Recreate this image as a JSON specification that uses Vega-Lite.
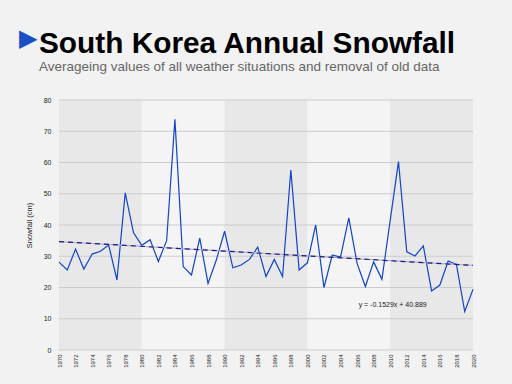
{
  "$schema": "https://vega.github.io/schema/vega-lite/v6.json",
  "background": "#f2f2f2",
  "padding": {"left": 19, "top": 27, "right": 45, "bottom": 25},
  "title": {"text": "▶", "color": "#1a4fc4", "fontSize": 24, "font": "DejaVu Sans", "anchor": "start", "frame": "group", "dx": -40, "dy": 22.5, "offset": 0},
  "datasets": {
    "snow": [
      {"year": 1970, "snowfall": 28.1}, {"year": 1971, "snowfall": 25.6}, {"year": 1972, "snowfall": 32.3},
      {"year": 1973, "snowfall": 25.9}, {"year": 1974, "snowfall": 30.7}, {"year": 1975, "snowfall": 31.6},
      {"year": 1976, "snowfall": 33.6}, {"year": 1977, "snowfall": 22.4}, {"year": 1978, "snowfall": 50.3},
      {"year": 1979, "snowfall": 37.5}, {"year": 1980, "snowfall": 33.5}, {"year": 1981, "snowfall": 35.3},
      {"year": 1982, "snowfall": 28.3}, {"year": 1983, "snowfall": 35.0}, {"year": 1984, "snowfall": 73.8},
      {"year": 1985, "snowfall": 26.7}, {"year": 1986, "snowfall": 24.0}, {"year": 1987, "snowfall": 35.8},
      {"year": 1988, "snowfall": 21.3}, {"year": 1989, "snowfall": 28.8}, {"year": 1990, "snowfall": 38.0},
      {"year": 1991, "snowfall": 26.3}, {"year": 1992, "snowfall": 27.2}, {"year": 1993, "snowfall": 29.0},
      {"year": 1994, "snowfall": 32.9}, {"year": 1995, "snowfall": 23.5}, {"year": 1996, "snowfall": 29.0},
      {"year": 1997, "snowfall": 23.5}, {"year": 1998, "snowfall": 57.6}, {"year": 1999, "snowfall": 25.6},
      {"year": 2000, "snowfall": 27.9}, {"year": 2001, "snowfall": 40.0}, {"year": 2002, "snowfall": 20.0},
      {"year": 2003, "snowfall": 30.4}, {"year": 2004, "snowfall": 29.7}, {"year": 2005, "snowfall": 42.3},
      {"year": 2006, "snowfall": 27.7}, {"year": 2007, "snowfall": 20.3}, {"year": 2008, "snowfall": 28.2},
      {"year": 2009, "snowfall": 22.6}, {"year": 2010, "snowfall": 41.5}, {"year": 2011, "snowfall": 60.3},
      {"year": 2012, "snowfall": 31.4}, {"year": 2013, "snowfall": 30.1}, {"year": 2014, "snowfall": 33.3},
      {"year": 2015, "snowfall": 18.9}, {"year": 2016, "snowfall": 20.8}, {"year": 2017, "snowfall": 28.5},
      {"year": 2018, "snowfall": 27.4}, {"year": 2019, "snowfall": 12.3}, {"year": 2020, "snowfall": 19.4}
    ],
    "bands": [
      {"year": 1970, "end": 1980, "shade": "dark"},
      {"year": 1980, "end": 1990, "shade": "light"},
      {"year": 1990, "end": 2000, "shade": "dark"},
      {"year": 2000, "end": 2010, "shade": "light"},
      {"year": 2010, "end": 2020, "shade": "dark"}
    ],
    "grid": [
      {"snowfall": 0}, {"snowfall": 10}, {"snowfall": 20}, {"snowfall": 30}, {"snowfall": 40},
      {"snowfall": 50}, {"snowfall": 60}, {"snowfall": 70}, {"snowfall": 80}
    ],
    "trend": [
      {"year": 1970, "snowfall": 34.7},
      {"year": 2020, "snowfall": 27.05}
    ],
    "note": [
      {"year": 2010.3, "snowfall": 14.4, "label": "y = -0.1529x + 40.889"}
    ]
  },
  "vconcat": [
    {
      "width": 414,
      "height": 250,
      "title": {
        "text": "South Korea Annual Snowfall",
        "subtitle": "Averageing values of all weather situations and removal of old data",
        "anchor": "start",
        "frame": "group",
        "dx": -20,
        "font": "Liberation Sans",
        "fontSize": 29.8,
        "fontWeight": "bold",
        "color": "#000000",
        "subtitleFont": "Liberation Sans",
        "subtitleFontSize": 13.5,
        "subtitleColor": "#666666",
        "subtitlePadding": 1,
        "offset": 23
      },
      "layer": [
        {
          "data": {"name": "bands"},
          "mark": {"type": "rect"},
          "encoding": {
            "x": {
              "field": "year", "type": "quantitative",
              "scale": {"domain": [1970, 2020], "nice": false, "zero": false},
              "axis": {
                "title": null,
                "values": [1970, 1972, 1974, 1976, 1978, 1980, 1982, 1984, 1986, 1988, 1990, 1992, 1994, 1996, 1998, 2000, 2002, 2004, 2006, 2008, 2010, 2012, 2014, 2016, 2018, 2020],
                "format": "d", "labelAngle": -90, "labelFontSize": 6, "labelFont": "Liberation Sans",
                "labelColor": "#222222", "labelPadding": 4, "labelOverlap": false, "labelFlush": false,
                "domain": false, "ticks": false, "grid": false
              }
            },
            "x2": {"field": "end"},
            "color": {
              "field": "shade", "type": "nominal",
              "scale": {"domain": ["dark", "light"], "range": ["#e8e8e8", "#f4f4f4"]},
              "legend": null
            }
          }
        },
        {
          "data": {"name": "grid"},
          "mark": {"type": "rule", "color": "#cccccc", "strokeWidth": 1},
          "encoding": {
            "y": {
              "field": "snowfall", "type": "quantitative",
              "scale": {"domain": [0, 80], "nice": false},
              "axis": {
                "title": "Snowfall (cm)", "titleFont": "Liberation Sans", "titleFontSize": 7.5,
                "titleFontWeight": "normal", "titleColor": "#222222", "titlePadding": 10,
                "values": [0, 10, 20, 30, 40, 50, 60, 70, 80],
                "labelFontSize": 7, "labelFont": "Liberation Sans", "labelColor": "#222222",
                "labelPadding": 8, "labelOverlap": false, "labelFlush": false,
                "domain": false, "ticks": false, "grid": false
              }
            }
          }
        },
        {
          "data": {"name": "snow"},
          "mark": {"type": "line", "color": "#1144c8", "strokeWidth": 1.2},
          "encoding": {
            "x": {
              "field": "year", "type": "quantitative",
              "axis": {
                "title": null,
                "values": [1970, 1972, 1974, 1976, 1978, 1980, 1982, 1984, 1986, 1988, 1990, 1992, 1994, 1996, 1998, 2000, 2002, 2004, 2006, 2008, 2010, 2012, 2014, 2016, 2018, 2020],
                "format": "d", "labelAngle": -90, "labelFontSize": 6, "labelFont": "Liberation Sans",
                "labelColor": "#222222", "labelPadding": 4, "labelOverlap": false, "labelFlush": false,
                "domain": false, "ticks": false, "grid": false
              }
            },
            "y": {
              "field": "snowfall", "type": "quantitative",
              "axis": {
                "title": "Snowfall (cm)", "titleFont": "Liberation Sans", "titleFontSize": 7.5,
                "titleFontWeight": "normal", "titleColor": "#222222", "titlePadding": 10,
                "values": [0, 10, 20, 30, 40, 50, 60, 70, 80],
                "labelFontSize": 7, "labelFont": "Liberation Sans", "labelColor": "#222222",
                "labelPadding": 8, "labelOverlap": false, "labelFlush": false,
                "domain": false, "ticks": false, "grid": false
              }
            }
          }
        },
        {
          "data": {"name": "trend"},
          "mark": {"type": "line", "color": "#b3acd4", "strokeWidth": 1.2},
          "encoding": {
            "x": {
              "field": "year", "type": "quantitative",
              "axis": {
                "title": null,
                "values": [1970, 1972, 1974, 1976, 1978, 1980, 1982, 1984, 1986, 1988, 1990, 1992, 1994, 1996, 1998, 2000, 2002, 2004, 2006, 2008, 2010, 2012, 2014, 2016, 2018, 2020],
                "format": "d", "labelAngle": -90, "labelFontSize": 6, "labelFont": "Liberation Sans",
                "labelColor": "#222222", "labelPadding": 4, "labelOverlap": false, "labelFlush": false,
                "domain": false, "ticks": false, "grid": false
              }
            },
            "y": {
              "field": "snowfall", "type": "quantitative",
              "axis": {
                "title": "Snowfall (cm)", "titleFont": "Liberation Sans", "titleFontSize": 7.5,
                "titleFontWeight": "normal", "titleColor": "#222222", "titlePadding": 10,
                "values": [0, 10, 20, 30, 40, 50, 60, 70, 80],
                "labelFontSize": 7, "labelFont": "Liberation Sans", "labelColor": "#222222",
                "labelPadding": 8, "labelOverlap": false, "labelFlush": false,
                "domain": false, "ticks": false, "grid": false
              }
            }
          }
        },
        {
          "data": {"name": "trend"},
          "mark": {"type": "line", "color": "#1c1c7a", "strokeWidth": 1.2, "strokeDash": [5, 4]},
          "encoding": {
            "x": {
              "field": "year", "type": "quantitative",
              "axis": {
                "title": null,
                "values": [1970, 1972, 1974, 1976, 1978, 1980, 1982, 1984, 1986, 1988, 1990, 1992, 1994, 1996, 1998, 2000, 2002, 2004, 2006, 2008, 2010, 2012, 2014, 2016, 2018, 2020],
                "format": "d", "labelAngle": -90, "labelFontSize": 6, "labelFont": "Liberation Sans",
                "labelColor": "#222222", "labelPadding": 4, "labelOverlap": false, "labelFlush": false,
                "domain": false, "ticks": false, "grid": false
              }
            },
            "y": {
              "field": "snowfall", "type": "quantitative",
              "axis": {
                "title": "Snowfall (cm)", "titleFont": "Liberation Sans", "titleFontSize": 7.5,
                "titleFontWeight": "normal", "titleColor": "#222222", "titlePadding": 10,
                "values": [0, 10, 20, 30, 40, 50, 60, 70, 80],
                "labelFontSize": 7, "labelFont": "Liberation Sans", "labelColor": "#222222",
                "labelPadding": 8, "labelOverlap": false, "labelFlush": false,
                "domain": false, "ticks": false, "grid": false
              }
            }
          }
        },
        {
          "data": {"name": "note"},
          "mark": {"type": "text", "font": "Liberation Sans", "fontSize": 7, "color": "#222222"},
          "encoding": {
            "x": {
              "field": "year", "type": "quantitative",
              "axis": {
                "title": null,
                "values": [1970, 1972, 1974, 1976, 1978, 1980, 1982, 1984, 1986, 1988, 1990, 1992, 1994, 1996, 1998, 2000, 2002, 2004, 2006, 2008, 2010, 2012, 2014, 2016, 2018, 2020],
                "format": "d", "labelAngle": -90, "labelFontSize": 6, "labelFont": "Liberation Sans",
                "labelColor": "#222222", "labelPadding": 4, "labelOverlap": false, "labelFlush": false,
                "domain": false, "ticks": false, "grid": false
              }
            },
            "y": {
              "field": "snowfall", "type": "quantitative",
              "axis": {
                "title": "Snowfall (cm)", "titleFont": "Liberation Sans", "titleFontSize": 7.5,
                "titleFontWeight": "normal", "titleColor": "#222222", "titlePadding": 10,
                "values": [0, 10, 20, 30, 40, 50, 60, 70, 80],
                "labelFontSize": 7, "labelFont": "Liberation Sans", "labelColor": "#222222",
                "labelPadding": 8, "labelOverlap": false, "labelFlush": false,
                "domain": false, "ticks": false, "grid": false
              }
            },
            "text": {"field": "label"}
          }
        }
      ]
    }
  ],
  "config": {
    "view": {"stroke": null},
    "concat": {"spacing": 0}
  }
}
